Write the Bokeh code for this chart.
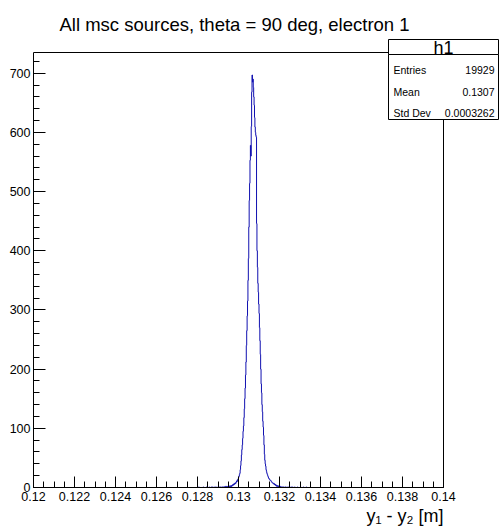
from bokeh.plotting import figure
from bokeh.models import (Range1d, SingleIntervalTicker, CustomJSTickFormatter,
                          Label, BoxAnnotation, Title)
from bokeh.embed import file_html
from bokeh.resources import INLINE

# ---------------- data ----------------
title_text = "All msc sources, theta = 90 deg, electron 1"
x_axis_title = "y\u2081 - y\u2082 [m]"
hist_name = "h1"
stat_names = ["Entries", "Mean", "Std Dev"]
stat_values = ["19929", "0.1307", "0.0003262"]
x_min, x_max = 0.12, 0.14
y_min, y_max = 0, 735
bin_width = 0.00002
first_bin_low = 0.128
counts = [
    0, 0, 0, 1, 0, 0, 0, 0, 0, 0,            # 0.1280
    0, 0, 0, 0, 1, 0, 0, 0, 0, 0,            # 0.1282
    0, 0, 1, 0, 0, 0, 0, 0, 1, 0,            # 0.1284
    0, 0, 0, 1, 0, 0, 1, 0, 0, 0,            # 0.1286
    1, 0, 0, 0, 1, 0, 0, 1, 0, 0,            # 0.1288
    0, 1, 0, 0, 1, 0, 1, 0, 0, 1,            # 0.1290
    1, 0, 1, 0, 1, 1, 0, 2, 1, 0,            # 0.1292
    1, 2, 1, 1, 2, 1, 2, 2, 1, 3,            # 0.1294
    2, 1, 3, 2, 4, 3, 5, 4, 6, 5,            # 0.1296
    7, 6, 8, 7, 9, 11, 10, 13, 12, 15,       # 0.1298
    17, 19, 22, 24, 30, 37, 45, 55, 64, 72,  # 0.1300
    83, 95, 104, 118, 133, 150, 168, 190, 212, 240,   # 0.1302
    265, 290, 315, 350, 387, 440, 485, 514, 553, 578,  # 0.1304
    560, 610, 668, 697, 685, 690, 676, 660, 646, 625,  # 0.1306
    609, 600, 595, 592, 446, 400, 372, 345, 330, 310,  # 0.1308
    294, 270, 248, 225, 200, 175, 160, 140, 128, 112,  # 0.1310
    102, 88, 72, 56, 46, 40, 36, 30, 27, 24,  # 0.1312
    22, 20, 18, 16, 15, 14, 13, 12, 12, 11,   # 0.1314
    10, 9, 8, 8, 7, 6, 7, 5, 6, 4,            # 0.1316
    5, 3, 4, 2, 3, 2, 3, 1, 2, 2,             # 0.1318
    1, 2, 1, 0, 1, 1, 0, 1, 1, 0,             # 0.1320
    1, 0, 0, 1, 0, 1, 0, 0, 1, 0,             # 0.1322
    0, 1, 0, 0, 0, 1, 0, 0, 0, 1,             # 0.1324
    0, 0, 1, 0, 0, 0, 0, 1, 0, 0,             # 0.1326
    0, 0, 0, 0, 1, 0, 0, 0, 0, 0,             # 0.1328
    0, 1, 0, 0, 0, 0, 0, 0, 1, 0,             # 0.1330
    0, 0, 0, 0, 0, 1, 0, 0, 0, 0,             # 0.1332
]

# staircase outline (ROOT "HIST" style)
xs = [x_min, first_bin_low]
ys = [0, 0]
for i, c in enumerate(counts):
    lo = first_bin_low + i * bin_width
    xs += [lo, lo + bin_width]
    ys += [c, c]
xs += [first_bin_low + len(counts) * bin_width, x_max]
ys += [0, 0]

FONT = "Liberation Sans"
W, H = 502, 530
# drawing area: histogram frame occupies 410 x 435 px at left/bottom of the
# plotting region, the rest (top/right) holds title and statistics box
ML, MT, MR, MB = 33, 0, 0, 43
FRAME_W, FRAME_H = 410, 435
plot_w, plot_h = W - ML - MR, H - MT - MB
x_view_end = x_min + (x_max - x_min) * plot_w / FRAME_W
y_view_end = y_min + (y_max - y_min) * plot_h / FRAME_H

p = figure(width=W, height=H, output_backend="svg", toolbar_location=None,
           x_range=Range1d(x_min, x_view_end), y_range=Range1d(y_min, y_view_end),
           min_border_left=ML, min_border_top=MT, min_border_right=MR,
           min_border_bottom=MB, title=None)
p.background_fill_color = "white"
p.border_fill_color = "white"
p.outline_line_color = None
p.grid.visible = False

# ROOT frame box (in data units)
p.add_layout(BoxAnnotation(left=x_min, right=x_max, bottom=y_min, top=y_max,
                           fill_alpha=0, line_color="black", line_width=1,
                           line_alpha=1.0, level="underlay"))

p.line(xs, ys, line_color="#1010b0", line_width=1)

# axes
xa = p.xaxis[0]
xa.bounds = (x_min, x_max)
xa.ticker = SingleIntervalTicker(interval=0.002, num_minor_ticks=4)
xa.formatter = CustomJSTickFormatter(code="return String(parseFloat(tick.toFixed(6)));")
ya = p.yaxis[0]
ya.bounds = (y_min, y_max)
ya.ticker = SingleIntervalTicker(interval=100, num_minor_ticks=5)
for ax, tin, mtin, stand in ((xa, 11, 6, 4), (ya, 12, 6, 3)):
    ax.major_tick_in = tin
    ax.major_tick_out = 0
    ax.minor_tick_in = mtin
    ax.minor_tick_out = 0
    ax.major_label_standoff = stand
    ax.axis_line_color = "black"
    ax.major_tick_line_color = "black"
    ax.minor_tick_line_color = "black"
    ax.major_label_text_font = FONT
    ax.major_label_text_font_size = "12.5px"
    ax.major_label_text_color = "black"

# axis title, right-aligned with the histogram frame's right edge
p.add_layout(Title(text=x_axis_title, align="right", offset=W - MR - (ML + FRAME_W) - (W - ML - MR - plot_w),
                   standoff=0, text_font=FONT, text_font_size="18px",
                   text_font_style="normal", text_color="black"), "below")

# frame-relative screen coordinates helpers (image px -> frame px)
def fx(img_x):
    return img_x - ML

def fy(img_y):
    return (H - MB) - img_y

def add_label(text, ix, iy, size, align="left", baseline="alphabetic"):
    p.add_layout(Label(x=fx(ix), y=fy(iy), x_units="screen", y_units="screen",
                       text=text, text_font=FONT, text_font_size=size,
                       text_align=align, text_baseline=baseline,
                       text_color="black"))

# title
add_label(title_text, 234, 24, "18.5px", align="center")

# stats box
box_l, box_r, box_t, box_div, box_b = 388, 498, 39, 54, 119
for top, bottom in ((box_t, box_div), (box_div, box_b)):
    p.add_layout(BoxAnnotation(left=fx(box_l), right=fx(box_r), top=fy(top), bottom=fy(bottom),
                               left_units="screen", right_units="screen",
                               top_units="screen", bottom_units="screen",
                               fill_color="white", fill_alpha=1.0,
                               line_color="black", line_width=1, line_alpha=1.0))
add_label(hist_name, (box_l + box_r) / 2, 47, "18px", align="center", baseline="middle")
for name, val, iy in zip(stat_names, stat_values, [69, 91, 112]):
    add_label(name, 393, iy, "10.5px", align="left", baseline="middle")
    add_label(val, 494, iy, "10.5px", align="right", baseline="middle")

open("out.html", "w").write(file_html(p, INLINE))
